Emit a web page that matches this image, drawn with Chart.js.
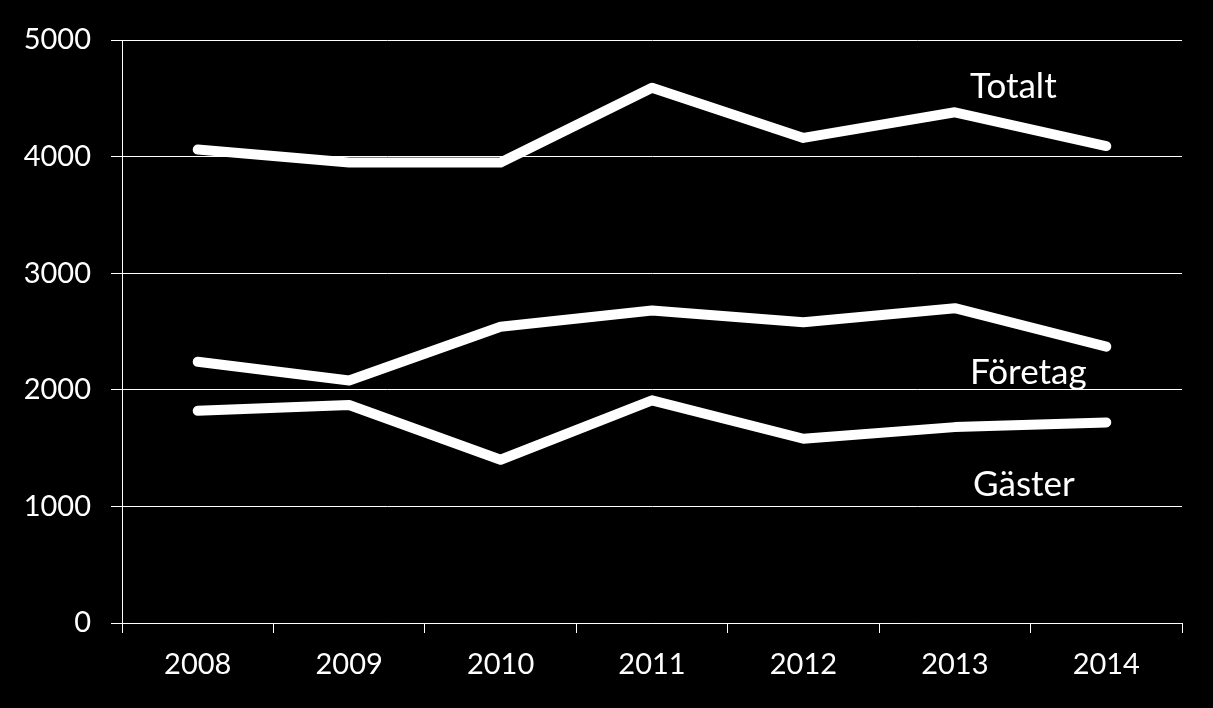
<!DOCTYPE html>
<html>
<head>
<meta charset="utf-8">
<script src="https://cdn.jsdelivr.net/npm/chart.js@4"></script>
<style>
  html, body { margin: 0; padding: 0; background: #000; }
  #wrap { width: 1213px; height: 708px; }
</style>
</head>
<body>
<div id="wrap"><canvas id="chart"></canvas></div>
<script>
// data
let years = ["2008", "2009", "2010", "2011", "2012", "2013", "2014"];
let totalt = [4060, 3950, 3950, 4590, 4160, 4380, 4090];
let foretag = [2240, 2080, 2540, 2680, 2580, 2700, 2370];
let gaster = [1820, 1870, 1400, 1910, 1580, 1680, 1720];

// series names drawn next to the lines
let seriesNames = ["Totalt", "Företag", "Gäster"];
let nameAt = [[5.1, 4600], [5.1, 2150], [5.12, 1190]];

let fontFamily = "Lato, 'Open Sans', sans-serif";

// draws the series names as plain text on the chart
const nameLabels = {
    id: "nameLabels",
    afterDatasetsDraw(chart) {
        let ctx = chart.ctx;
        ctx.save();
        ctx.fillStyle = "#fff";
        ctx.font = "35px " + fontFamily;
        ctx.textBaseline = "middle";
        ctx.textAlign = "left";
        seriesNames.forEach((name, i) => {
            let x = chart.scales.x.getPixelForValue(nameAt[i][0]);
            let y = chart.scales.y.getPixelForValue(nameAt[i][1]);
            ctx.fillText(name, x, y);
        });
        ctx.restore();
    }
};

function lineSet(label, values) {
    return {
        label: label,
        data: values,
        borderColor: "#fff",
        borderWidth: 10,
        borderCapStyle: "round",
        borderJoinStyle: "round",
        pointRadius: 0,
        tension: 0,
        fill: false
    };
}

let ctx = document.getElementById("chart").getContext("2d");
let chart = new Chart(ctx, {
    type: "line",
    data: {
        labels: years,
        datasets: [
            lineSet("Totalt", totalt),
            lineSet("Företag", foretag),
            lineSet("Gäster", gaster)
        ]
    },
    plugins: [nameLabels],
    options: {
        responsive: true,
        maintainAspectRatio: false,
        animation: false,
        layout: { padding: { top: 40, right: 31, left: 0, bottom: 0 } },
        plugins: {
            legend: { display: false },
            tooltip: { enabled: false }
        },
        scales: {
            x: {
                offset: true,
                grid: {
                    offset: true,
                    drawOnChartArea: false,
                    drawTicks: true,
                    tickLength: 10,
                    color: "#fff",
                    lineWidth: 1
                },
                border: { color: "#fff", width: 1 },
                ticks: {
                    color: "#fff",
                    font: { family: fontFamily, size: 29 },
                    padding: 14,
                    maxRotation: 0
                },
                afterFit(scale) { scale.height = 85; }
            },
            y: {
                min: 0,
                max: 5000,
                ticks: {
                    stepSize: 1000,
                    color: "#fff",
                    font: { family: fontFamily, size: 29 },
                    padding: 20,
                    callback: v => String(v)
                },
                grid: {
                    color: "#fff",
                    lineWidth: 1,
                    tickLength: 11
                },
                border: { color: "#fff", width: 1 },
                afterFit(scale) { scale.width = 122; }
            }
        }
    }
});
</script>
</body>
</html>
